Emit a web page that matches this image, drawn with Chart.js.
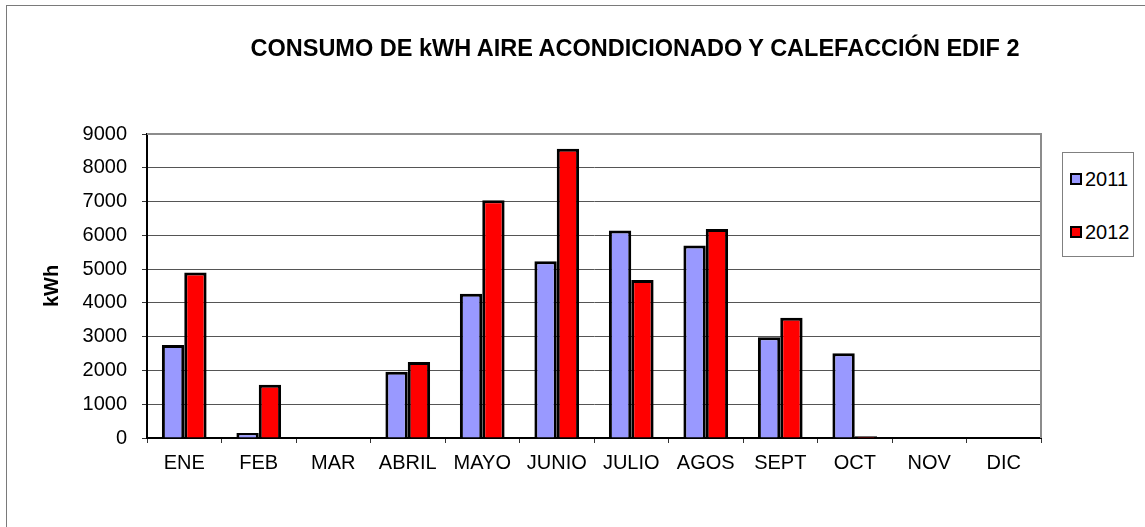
<!DOCTYPE html>
<html>
<head>
<meta charset="utf-8">
<script src="https://cdn.jsdelivr.net/npm/chart.js@4/dist/chart.umd.min.js"></script>
<style>
  body { margin: 0; background: #fff; font-family: "Liberation Sans", Arial, sans-serif; }
  #wrap { position: relative; width: 1145px; height: 527px; overflow: hidden; }
  #frame { position: absolute; left: 6px; top: 5px; width: 1200px; height: 600px; border: 1px solid #7a7a7a; }
  #titulo { position: absolute; left: 635px; top: 37px; transform: translateX(-50%); white-space: nowrap;
            font-size: 23.5px; font-weight: bold; line-height: 1; color: #000; }
  #leyenda { position: absolute; left: 1062px; top: 152px; width: 72px; height: 105px; box-sizing: border-box;
             border: 1px solid #808080; background: #fff; }
  .item { position: absolute; left: 7px; font-size: 20px; line-height: 1; color: #000; display: flex; align-items: center; }
  .marca { width: 8px; height: 8px; border: 2px solid #000; margin-right: 3px; }
  canvas { position: absolute; left: 0; top: 0; }
</style>
</head>
<body>
<div id="wrap">
  <div id="frame"></div>
  <canvas id="grafico" width="1145" height="527"></canvas>
  <div id="titulo">CONSUMO DE kWH AIRE ACONDICIONADO Y CALEFACCIÓN EDIF 2</div>
  <div id="leyenda"></div>
</div>
<script>
const meses = ['ENE', 'FEB', 'MAR', 'ABRIL', 'MAYO', 'JUNIO', 'JULIO', 'AGOS', 'SEPT', 'OCT', 'NOV', 'DIC'];
const anios = ['2011', '2012'];
const consumo2011 = [2750, 150, 0, 1960, 4270, 5230, 6140, 5700, 2980, 2510, 0, 0];
const consumo2012 = [4900, 1580, 20, 2250, 7040, 8560, 4680, 6190, 3560, 50, 0, 0];
const colores = ['#9999FF', '#FF0000'];
const ejeY = { min: 0, max: 9000, paso: 1000 };

const fuente = '"Liberation Sans", Arial, sans-serif';

// leyenda en html
const leyenda = document.getElementById('leyenda');
anios.forEach((a, i) => {
    const d = document.createElement('div');
    d.className = 'item';
    d.style.top = (i === 0 ? 16 : 69) + 'px';
    d.innerHTML = '<span class="marca" style="background:' + colores[i] + '"></span>' + a;
    leyenda.appendChild(d);
});

// borde superior y derecho del area de trazado
const marcoArea = {
    id: 'marcoArea',
    beforeDatasetsDraw(chart) {
        const { ctx, chartArea: a } = chart;
        ctx.save();
        ctx.strokeStyle = '#8c8c8c';
        ctx.lineWidth = 2;
        ctx.beginPath();
        ctx.moveTo(a.left, a.top);
        ctx.lineTo(a.right, a.top);
        ctx.lineTo(a.right, a.bottom);
        ctx.stroke();
        ctx.restore();
    }
};

new Chart(document.getElementById('grafico'), {
    type: 'bar',
    data: {
        labels: meses,
        datasets: [
            { label: anios[0], data: consumo2011, backgroundColor: colores[0] },
            { label: anios[1], data: consumo2012, backgroundColor: colores[1] }
        ]
    },
    options: {
        responsive: false,
        animation: false,
        layout: { padding: { left: 0, top: 134, right: 104, bottom: 0 } },
        datasets: {
            bar: {
                borderColor: '#000',
                borderWidth: 3,
                categoryPercentage: 0.6,
                barPercentage: 1
            }
        },
        plugins: {
            legend: { display: false },
            title: { display: false },
            tooltip: { enabled: false }
        },
        scales: {
            x: {
                grid: { drawOnChartArea: false, drawTicks: true, tickLength: 5, offset: true, tickColor: '#333' },
                border: { color: '#000', width: 2 },
                ticks: { color: '#000', padding: 8, font: { family: fuente, size: 20 }, maxRotation: 0 },
                afterFit: (s) => { s.height = 89; }
            },
            y: {
                min: ejeY.min,
                max: ejeY.max,
                grid: { color: '#555', lineWidth: 1, tickLength: 5, tickColor: '#333' },
                border: { color: '#000', width: 2 },
                ticks: {
                    stepSize: ejeY.paso,
                    color: '#000',
                    padding: 15,
                    font: { family: fuente, size: 20 },
                    callback: (v) => String(v)
                },
                title: {
                    display: true,
                    text: 'kWh',
                    color: '#000',
                    padding: { top: 40, bottom: 0 },
                    font: { family: fuente, size: 20, weight: 'bold' }
                },
                afterFit: (s) => { s.width = 147; }
            }
        }
    },
    plugins: [marcoArea]
});
</script>
</body>
</html>
